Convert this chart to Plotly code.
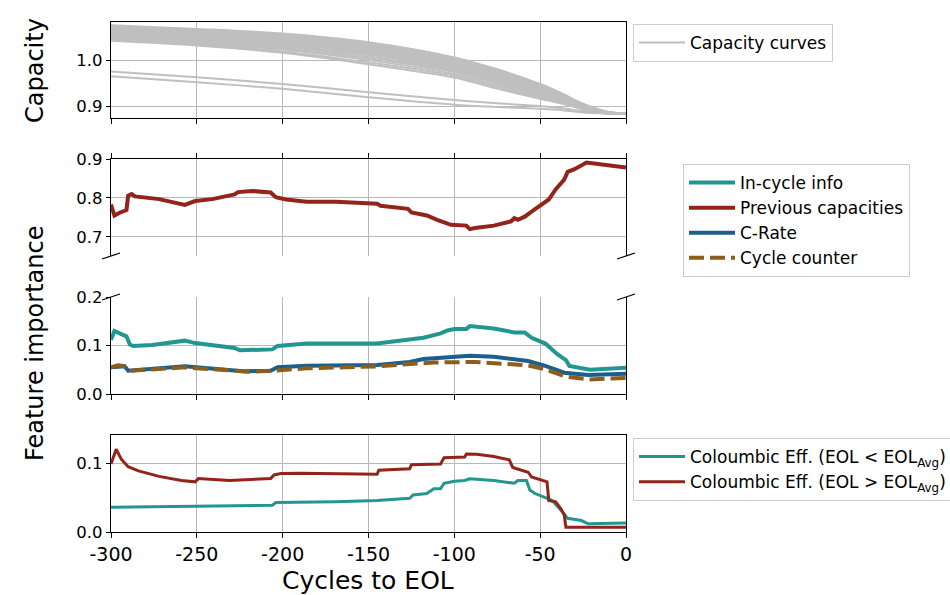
import plotly.graph_objects as go

# ---------------- data ----------------
# Normalised capacity curves (cycles to EOL vs. capacity)
cap_x = [-300, -250, -200, -150, -100, -75, -50, -37, -25, -12, 0]
cap_curves = [
    [1.076, 1.068, 1.058, 1.039, 1.006, 0.980, 0.948, 0.927, 0.905, 0.889, 0.883],
    [1.074, 1.066, 1.056, 1.037, 1.004, 0.979, 0.946, 0.925, 0.904, 0.888, 0.883],
    [1.072, 1.064, 1.053, 1.034, 1.001, 0.976, 0.944, 0.923, 0.903, 0.888, 0.883],
    [1.070, 1.062, 1.051, 1.032, 0.999, 0.974, 0.942, 0.922, 0.902, 0.887, 0.883],
    [1.068, 1.060, 1.049, 1.029, 0.996, 0.972, 0.940, 0.920, 0.901, 0.887, 0.883],
    [1.065, 1.057, 1.046, 1.027, 0.994, 0.969, 0.938, 0.918, 0.900, 0.887, 0.883],
    [1.063, 1.055, 1.043, 1.024, 0.991, 0.967, 0.936, 0.917, 0.899, 0.886, 0.883],
    [1.061, 1.052, 1.041, 1.021, 0.988, 0.964, 0.934, 0.915, 0.898, 0.886, 0.883],
    [1.059, 1.050, 1.038, 1.018, 0.985, 0.961, 0.932, 0.914, 0.897, 0.886, 0.883],
    [1.056, 1.047, 1.035, 1.015, 0.983, 0.959, 0.930, 0.912, 0.897, 0.885, 0.883],
    [1.054, 1.045, 1.032, 1.012, 0.980, 0.956, 0.928, 0.911, 0.896, 0.885, 0.883],
    [1.051, 1.042, 1.029, 1.008, 0.977, 0.953, 0.926, 0.910, 0.895, 0.885, 0.883],
    [1.049, 1.039, 1.026, 1.004, 0.974, 0.950, 0.924, 0.909, 0.895, 0.885, 0.883],
    [1.047, 1.037, 1.023, 1.000, 0.970, 0.946, 0.921, 0.908, 0.894, 0.885, 0.883],
    [1.044, 1.034, 1.019, 0.995, 0.966, 0.942, 0.918, 0.906, 0.893, 0.884, 0.883],
    [1.042, 1.032, 1.016, 0.991, 0.962, 0.938, 0.916, 0.905, 0.893, 0.884, 0.883],
    [0.975, 0.9625, 0.948, 0.930, 0.913, 0.906, 0.900, 0.895, 0.889, 0.885, 0.883],
    [0.965, 0.952, 0.9375, 0.919, 0.903, 0.898, 0.894, 0.891, 0.886, 0.884, 0.883],
]

# Feature importance: previous capacities (upper broken-axis panel)
prev_x = [-300, -298, -295, -292, -291, -290, -288, -286, -272, -257, -251, -241,
          -228, -226, -218, -207, -204, -198, -186, -169, -145, -143, -127, -125,
          -116, -110, -102, -93, -91, -88, -77, -67, -65, -63, -59, -55, -47, -45,
          -41, -36, -34, -30, -23, -18, 0]
prev_y = [0.783, 0.755, 0.762, 0.768, 0.769, 0.806, 0.810, 0.804, 0.797, 0.782, 0.792, 0.797,
          0.809, 0.815, 0.818, 0.814, 0.802, 0.796, 0.790, 0.790, 0.785, 0.780, 0.772, 0.763,
          0.755, 0.744, 0.731, 0.729, 0.720, 0.723, 0.729, 0.740, 0.748, 0.744, 0.752, 0.765,
          0.789, 0.796, 0.822, 0.847, 0.867, 0.874, 0.891, 0.888, 0.878]

# Feature importance: in-cycle info
incyc_x = [-300, -298, -295, -291, -289, -287, -276, -257, -251, -239, -228, -225,
           -214, -206, -203, -186, -145, -126, -118, -108, -104, -100, -93, -91,
           -77, -65, -59, -55, -47, -40, -35, -33, -24, -21, 0]
incyc_y = [0.112, 0.130, 0.125, 0.119, 0.102, 0.099, 0.101, 0.110, 0.105, 0.099, 0.095, 0.090,
           0.090, 0.092, 0.099, 0.104, 0.104, 0.111, 0.116, 0.125, 0.131, 0.134, 0.134, 0.140,
           0.135, 0.127, 0.127, 0.116, 0.104, 0.082, 0.070, 0.058, 0.052, 0.050, 0.054]

# Feature importance: C-rate
crate_x = [-300, -292, -290, -257, -223, -207, -203, -186, -145, -126, -118, -100,
           -91, -77, -57, -47, -36, -22, 0]
crate_y = [0.055, 0.057, 0.048, 0.057, 0.047, 0.048, 0.055, 0.058, 0.060, 0.066, 0.072, 0.077,
           0.079, 0.077, 0.068, 0.058, 0.044, 0.039, 0.042]

# Feature importance: cycle counter
count_x = [-300, -296, -291, -288, -257, -220, -206, -186, -145, -126, -112, -88,
           -57, -47, -35, -22, 0]
count_y = [0.055, 0.059, 0.057, 0.048, 0.055, 0.046, 0.048, 0.053, 0.057, 0.061, 0.065, 0.066,
           0.059, 0.051, 0.036, 0.030, 0.033]

# Coulombic efficiency importance, cells with EOL below average
ce_lo_x = [-300, -251, -206, -204, -169, -145, -126, -124, -116, -112, -108, -106,
           -100, -94, -91, -77, -65, -63, -58, -56, -53, -47, -43, -38, -34, -26, -22, 0]
ce_lo_y = [0.036, 0.037, 0.039, 0.043, 0.044, 0.046, 0.049, 0.054, 0.056, 0.063, 0.063, 0.071,
           0.074, 0.075, 0.0775, 0.075, 0.071, 0.075, 0.075, 0.061, 0.056, 0.050, 0.046, 0.032,
           0.020, 0.0167, 0.012, 0.013]

# Coulombic efficiency importance, cells with EOL above average
ce_hi_x = [-300, -297, -294, -290, -284, -272, -259, -251, -249, -231, -207, -205,
           -201, -190, -145, -144, -126, -125, -108, -106, -94, -93, -87, -77, -68, -66,
           -57, -55, -46, -45, -41, -38, -36, -35, 0]
ce_hi_y = [0.099, 0.1206, 0.106, 0.095, 0.089, 0.081, 0.075, 0.073, 0.078, 0.075, 0.078, 0.083,
           0.085, 0.0856, 0.084, 0.090, 0.092, 0.098, 0.099, 0.108, 0.109, 0.1134, 0.113, 0.110,
           0.105, 0.094, 0.087, 0.080, 0.073, 0.046, 0.044, 0.034, 0.025, 0.007, 0.007]

x_ticks = [-300, -250, -200, -150, -100, -50, 0]
x_tick_text = ["-300", "-250", "-200", "-150", "-100", "-50", "0"]

# ---------------- style ----------------
FONT = "DejaVu Sans"
TEAL = "#229691"
RED = "#92241a"
BLUE = "#1b5f8e"
BROWN = "#8c5e1c"
GRAY = "#bfbfbf"
GRID = "#b8b8b8"

fig = go.Figure()

for i, curve in enumerate(cap_curves):
    fig.add_trace(go.Scatter(
        x=cap_x, y=curve, mode="lines", name="Capacity curves",
        line=dict(color=GRAY, width=2, shape="spline", smoothing=0.8),
        legend="legend", legendgroup="cap", showlegend=(i == 0),
        xaxis="x", yaxis="y", hoverinfo="skip"))

fig.add_trace(go.Scatter(
    x=incyc_x, y=incyc_y, mode="lines", name="In-cycle info",
    line=dict(color=TEAL, width=4), legend="legend2",
    xaxis="x3", yaxis="y3"))
fig.add_trace(go.Scatter(
    x=prev_x, y=prev_y, mode="lines", name="Previous capacities",
    line=dict(color=RED, width=4), legend="legend2",
    xaxis="x2", yaxis="y2"))
fig.add_trace(go.Scatter(
    x=crate_x, y=crate_y, mode="lines", name="C-Rate",
    line=dict(color=BLUE, width=4), legend="legend2",
    xaxis="x3", yaxis="y3"))
fig.add_trace(go.Scatter(
    x=count_x, y=count_y, mode="lines", name="Cycle counter",
    line=dict(color=BROWN, width=4, dash="15px,6px"), legend="legend2",
    xaxis="x3", yaxis="y3"))

fig.add_trace(go.Scatter(
    x=ce_lo_x, y=ce_lo_y, mode="lines",
    name="Coloumbic Eff. (EOL &lt; EOL<sub>Avg</sub>)",
    line=dict(color=TEAL, width=3), legend="legend3", legendgroup="lo",
    xaxis="x4", yaxis="y4"))
fig.add_trace(go.Scatter(
    x=ce_hi_x, y=ce_hi_y, mode="lines",
    name="Coloumbic Eff. (EOL &gt; EOL<sub>Avg</sub>)",
    line=dict(color=RED, width=3), legend="legend3", legendgroup="hi",
    xaxis="x4", yaxis="y4"))

# Panel geometry (pixel based on a 950x595 canvas)
L, R, T, B = 111, 324, 22, 63
W = 950 - L - R
H = 595 - T - B


def py(pix):
    """Convert a pixel row to a paper y fraction."""
    return (595 - B - pix) / H


def px(pix):
    return (pix - L) / W


domains = {
    1: [py(118), 1.0],
    2: [py(256), py(159)],
    3: [py(394), py(297)],
    4: [0.0, py(435)],
}

common_x = dict(range=[-300, 0], tickvals=x_ticks, ticktext=x_tick_text,
                showgrid=True, gridcolor=GRID, gridwidth=1, zeroline=False,
                ticks="outside", ticklen=5, tickwidth=1, tickcolor="black",
                showline=True, linecolor="black", linewidth=1.3)
common_y = dict(showgrid=True, gridcolor=GRID, gridwidth=1, zeroline=False,
                ticks="outside", ticklen=4, tickwidth=1, tickcolor="black",
                showline=True, linecolor="black", linewidth=1.3, mirror=True,
                tickformat=".1f", tickfont=dict(size=16.5, family=FONT, color="black"))

fig.update_layout(
    xaxis=dict(common_x, domain=[0, 1], anchor="y", mirror=True, showticklabels=False),
    yaxis=dict(common_y, domain=domains[1], anchor="x", range=[0.874, 1.083], dtick=0.1),
    xaxis2=dict(common_x, domain=[0, 1], anchor="y2", side="top", mirror=False,
                showticklabels=False),
    yaxis2=dict(common_y, domain=domains[2], anchor="x2", range=[0.651, 0.9], dtick=0.1),
    xaxis3=dict(common_x, domain=[0, 1], anchor="y3", mirror=False, showticklabels=False),
    yaxis3=dict(common_y, domain=domains[3], anchor="x3", range=[0, 0.2], dtick=0.1),
    xaxis4=dict(common_x, domain=[0, 1], anchor="y4", mirror=True, showticklabels=True,
                tickfont=dict(size=19, family=FONT, color="black")),
    yaxis4=dict(common_y, domain=domains[4], anchor="x4", range=[0, 0.1412], dtick=0.1),
)

legend_style = dict(bgcolor="rgba(255,255,255,0.8)", bordercolor="#cccccc", borderwidth=1,
                    font=dict(size=17, family=FONT, color="black"), itemwidth=46,
                    xref="paper", yref="paper", xanchor="left", yanchor="top")
fig.update_layout(
    legend=dict(legend_style, x=px(633), y=py(24)),
    legend2=dict(legend_style, x=px(683), y=py(164), entrywidth=254, entrywidthmode="pixels"),
    legend3=dict(legend_style, x=px(633), y=py(438), tracegroupgap=0),
)

# Diagonal break marks between the two feature-importance panels
dx, dy = 9 / W, 3 / H
shapes = []
for yb in (domains[2][0], domains[3][1]):
    for xb in (0.0, 1.0):
        shapes.append(dict(type="line", xref="paper", yref="paper",
                           x0=xb - dx, y0=yb - dy, x1=xb + dx, y1=yb + dy,
                           line=dict(color="black", width=1.3)))

title_font = dict(size=24, family=FONT, color="black")
annotations = [
    dict(text="Capacity", x=px(35), y=py(71), xref="paper", yref="paper",
         xanchor="center", yanchor="middle", textangle=-90, showarrow=False,
         font=title_font),
    dict(text="Feature importance", x=px(35), y=py(344), xref="paper", yref="paper",
         xanchor="center", yanchor="middle", textangle=-90, showarrow=False,
         font=title_font),
    dict(text="Cycles to EOL", x=px(368), y=py(580), xref="paper", yref="paper",
         xanchor="center", yanchor="middle", showarrow=False,
         font=dict(title_font, size=25)),
]

fig.update_layout(
    width=950, height=595,
    margin=dict(l=L, r=R, t=T, b=B, autoexpand=False),
    paper_bgcolor="white", plot_bgcolor="white",
    font=dict(family=FONT, color="black"),
    shapes=shapes, annotations=annotations,
)

fig.write_html("out.html")
